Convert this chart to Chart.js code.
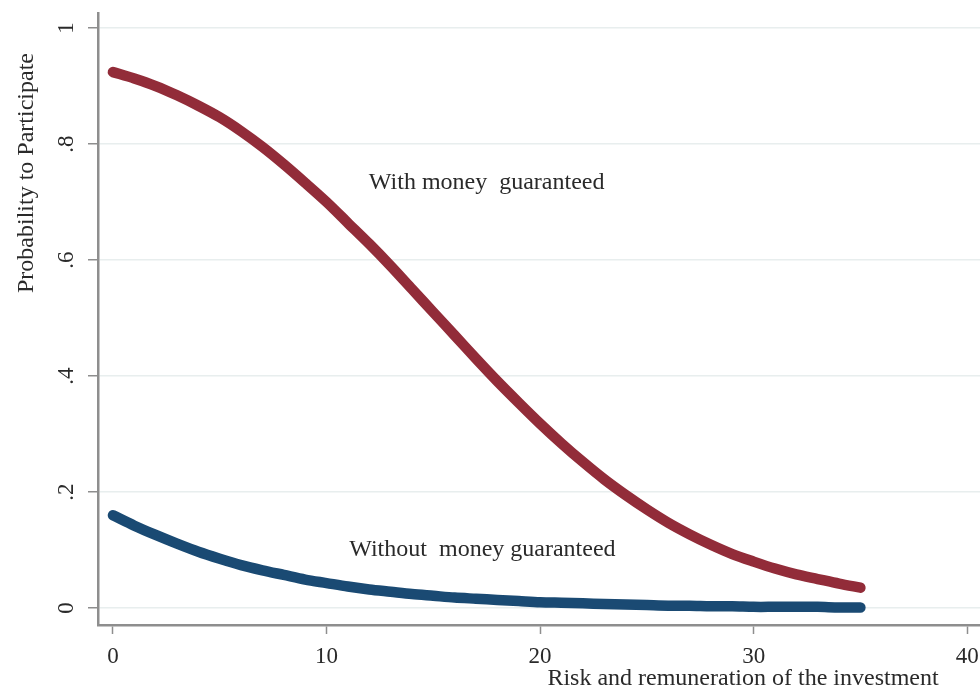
<!DOCTYPE html>
<html>
<head>
<meta charset="utf-8">
<script src="https://cdn.jsdelivr.net/npm/chart.js@4.4.1/dist/chart.umd.min.js"></script>
<style>
  html, body { margin: 0; padding: 0; background: #ffffff; }
  #wrap { width: 980px; height: 691px; }
</style>
</head>
<body>
<div id="wrap"><canvas id="c" width="980" height="691"></canvas></div>
<script>
// Risk / remuneration levels of the investment
const riskLevels = [0,1,2,3,4,5,6,7,8,9,10,11,12,13,14,15,16,17,18,19,20,21,22,23,24,25,26,27,28,29,30,31,32,33,34,35];

// Predicted probability to participate, money guaranteed
const probWithGuarantee = [0.924,0.913,0.900,0.884,0.866,0.846,0.822,0.795,0.765,0.733,0.700,0.664,0.628,0.590,0.550,0.510,0.470,0.430,0.391,0.354,0.318,0.284,0.252,0.222,0.195,0.170,0.147,0.127,0.109,0.093,0.080,0.068,0.058,0.050,0.042,0.035];

// Predicted probability to participate, money not guaranteed
const probWithoutGuarantee = [0.160,0.142,0.126,0.111,0.097,0.085,0.074,0.065,0.057,0.049,0.043,0.037,0.032,0.028,0.024,0.021,0.018,0.016,0.014,0.012,0.010,0.009,0.008,0.007,0.006,0.005,0.004,0.004,0.003,0.003,0.002,0.002,0.002,0.002,0.001,0.001];

const xTickValues = [0, 10, 20, 30, 40];
const xTickLabels = ['0', '10', '20', '30', '40'];
const yTickValues = [0, 0.2, 0.4, 0.6, 0.8, 1];
const yTickLabels = ['0', '.2', '.4', '.6', '.8', '1'];

const seriesLabels = ['With money  guaranteed', 'Without  money guaranteed'];
const xAxisTitle = 'Risk and remuneration of the investment';
const yAxisTitle = 'Probability to Participate';

const SERIF = '"Liberation Serif", "Times New Roman", serif';
const AXIS_GREY = '#8e8e8e';
const TEXT_COLOR = '#2a2a2a';

function labelFor(values, labels, v) {
  const i = values.findIndex(t => Math.abs(t - v) < 1e-9);
  return i >= 0 ? labels[i] : '';
}

// Curve labels and axis titles drawn onto the plot
const textLayer = {
  id: 'textLayer',
  afterDraw(chart) {
    const { ctx, scales: { x, y } } = chart;
    ctx.save();
    ctx.fillStyle = TEXT_COLOR;
    ctx.font = '24px ' + SERIF;
    ctx.textAlign = 'center';
    ctx.textBaseline = 'middle';
    ctx.fillText(seriesLabels[0], x.getPixelForValue(17.5), y.getPixelForValue(0.734));
    ctx.fillText(seriesLabels[1], x.getPixelForValue(17.3), y.getPixelForValue(0.100));

    ctx.fillText(xAxisTitle, 743, 679);

    ctx.translate(27, 173);
    ctx.rotate(-Math.PI / 2);
    ctx.fillText(yAxisTitle, 0, 0);
    ctx.restore();
  }
};

new Chart(document.getElementById('c'), {
  type: 'line',
  data: {
    datasets: [
      {
        label: seriesLabels[0],
        data: riskLevels.map((r, i) => ({ x: r, y: probWithGuarantee[i] })),
        borderColor: '#922c39',
        borderWidth: 10.5,
        borderCapStyle: 'round',
        borderJoinStyle: 'round',
        pointRadius: 0,
        tension: 0.3,
        fill: false
      },
      {
        label: seriesLabels[1],
        data: riskLevels.map((r, i) => ({ x: r, y: probWithoutGuarantee[i] })),
        borderColor: '#1a4a73',
        borderWidth: 10.5,
        borderCapStyle: 'round',
        borderJoinStyle: 'round',
        pointRadius: 0,
        tension: 0.3,
        fill: false
      }
    ]
  },
  options: {
    responsive: false,
    animation: false,
    devicePixelRatio: 1,
    layout: { padding: { top: 13, right: 0, bottom: 0, left: 0 } },
    plugins: {
      legend: { display: false },
      tooltip: { enabled: false }
    },
    scales: {
      x: {
        type: 'linear',
        min: -0.7,
        max: 40.6,
        afterBuildTicks: s => { s.ticks = xTickValues.map(v => ({ value: v })); },
        afterFit: s => { s.height = 66; s.paddingLeft = 0; s.paddingRight = 0; },
        ticks: {
          autoSkip: false,
          maxRotation: 0,
          padding: 9,
          color: TEXT_COLOR,
          font: { family: SERIF, size: 23 },
          callback: v => labelFor(xTickValues, xTickLabels, v)
        },
        grid: {
          drawOnChartArea: false,
          drawTicks: true,
          tickLength: 9,
          tickColor: AXIS_GREY,
          tickWidth: 1.5
        },
        border: { display: true, color: AXIS_GREY, width: 2.5 }
      },
      y: {
        type: 'linear',
        min: -0.0293,
        max: 1.0259,
        afterBuildTicks: s => { s.ticks = yTickValues.map(v => ({ value: v })); },
        afterFit: s => { s.width = 98; s.paddingTop = 0; s.paddingBottom = 0; },
        ticks: {
          autoSkip: false,
          minRotation: 90,
          maxRotation: 90,
          crossAlign: 'center',
          padding: 12,
          color: TEXT_COLOR,
          font: { family: SERIF, size: 23 },
          callback: v => labelFor(yTickValues, yTickLabels, v)
        },
        grid: {
          color: '#e8eeee',
          lineWidth: 1.5,
          drawTicks: true,
          tickLength: 10,
          tickColor: AXIS_GREY,
          tickWidth: 1.5
        },
        border: { display: true, color: AXIS_GREY, width: 2.5 }
      }
    }
  },
  plugins: [textLayer]
});
</script>
</body>
</html>
